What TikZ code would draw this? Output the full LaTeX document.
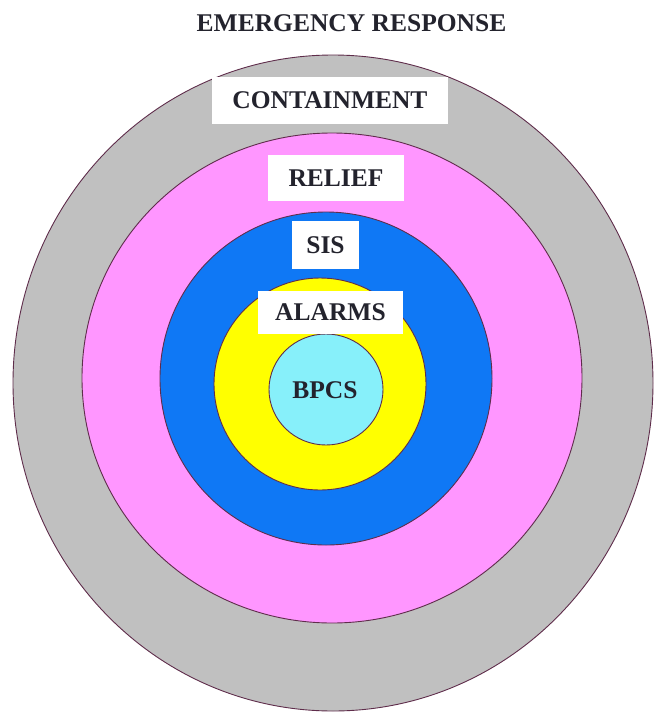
\documentclass[tikz,border=0pt]{standalone}
\usepackage{fontspec}
\setmainfont{Liberation Serif}
\usetikzlibrary{shapes.geometric}
\definecolor{ringgray}{RGB}{192,192,192}
\definecolor{ringpink}{RGB}{255,150,255}
\definecolor{ringblue}{RGB}{15,120,245}
\definecolor{ringyellow}{RGB}{255,255,0}
\definecolor{ringcyan}{RGB}{135,240,250}
\definecolor{ringline}{RGB}{95,45,75}
\definecolor{txt}{RGB}{35,35,45}
\tikzset{
  ring/.style={ellipse, draw=ringline, line width=0.9pt, inner sep=0pt, outer sep=0pt},
  labelbox/.style={rectangle, fill=white, draw=none, inner sep=0pt, outer sep=0pt,
    text=txt, font=\fontsize{25.5}{30}\selectfont\bfseries},
  lbl/.style={text=txt, inner sep=0pt, font=\fontsize{25.5}{30}\selectfont\bfseries}
}
\begin{document}
\begin{tikzpicture}[x=1pt,y=-1pt]
\useasboundingbox[fill=white] (0,0) rectangle (654,713);
\node[ring, fill=ringgray, minimum width=640pt, minimum height=656pt] (containment) at (333,383) {};
\node[ring, fill=ringpink, minimum width=500pt, minimum height=490pt] (relief) at (332,378) {};
\node[ring, fill=ringblue, minimum width=332pt, minimum height=333pt] (sis) at (326,378.5) {};
\node[ring, fill=ringyellow, minimum width=212pt, minimum height=212pt] (alarms) at (320,384) {};
\node[ring, fill=ringcyan, minimum width=114pt, minimum height=111pt] (bpcs) at (326,389.5) {};
\node[lbl] (title) at (351.5,23.5) {EMERGENCY RESPONSE};
\node[labelbox, minimum width=236pt, minimum height=47pt] (contlbl) at (330,100.5) {CONTAINMENT};
\node[labelbox, minimum width=136pt, minimum height=46pt] (relieflbl) at (336,178) {RELIEF};
\node[labelbox, minimum width=67pt, minimum height=48pt] (sislbl) at (325.5,245) {SIS};
\node[labelbox, minimum width=145pt, minimum height=43pt] (alarmslbl) at (330.5,312) {ALARMS};
\node[lbl] (bpcslbl) at (325,390.5) {BPCS};
\end{tikzpicture}
\end{document}
